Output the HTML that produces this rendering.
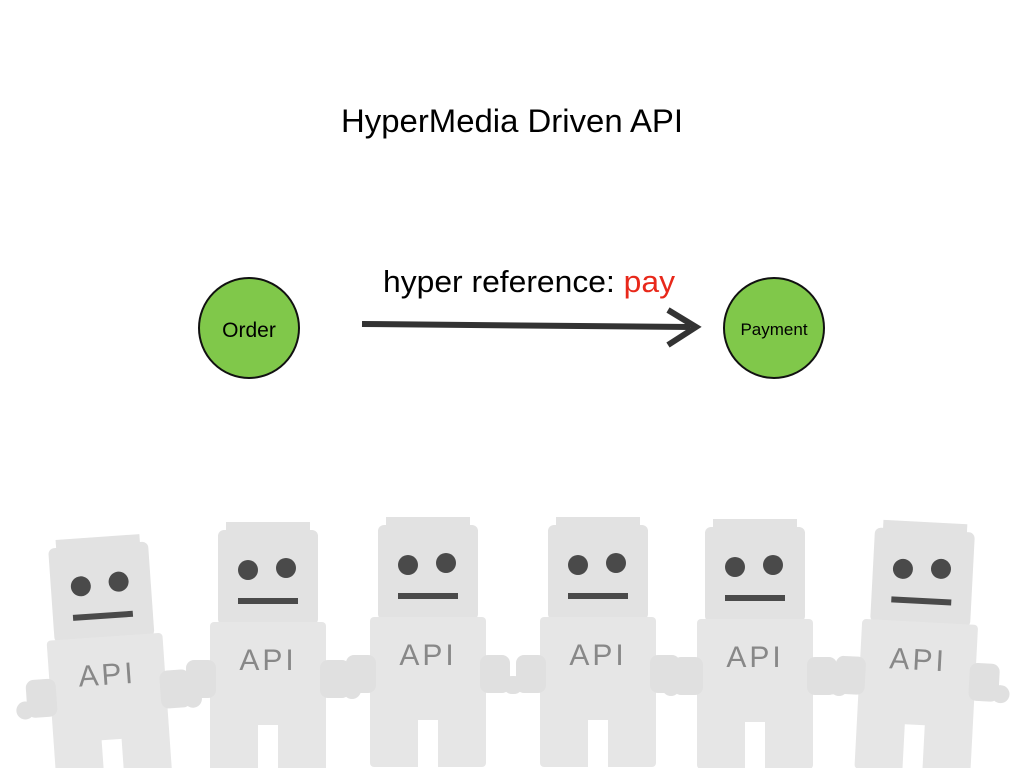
<!DOCTYPE html>
<html><head><style>
html,body{margin:0;padding:0;background:#fff;}
body{width:1024px;height:768px;position:relative;overflow:hidden;font-family:"Liberation Sans",sans-serif;}
</style></head><body>
<svg width="1024" height="768" viewBox="0 0 1024 768" style="position:absolute;left:0;top:0">
<defs>
<g id="robot">
  <rect x="-50" y="0" width="100" height="95" rx="6" fill="#e2e2e2"/>
  <rect x="-42" y="-8" width="84" height="12" fill="#e2e2e2"/>
  <rect x="-58" y="92" width="116" height="150" rx="4" fill="#e6e6e6"/>
  <rect x="-10" y="195" width="20" height="60" fill="#fff"/>
  <rect x="-82" y="130" width="30" height="38" rx="8" fill="#e0e0e0"/>
  <rect x="52" y="130" width="30" height="38" rx="8" fill="#e0e0e0"/>
  <circle cx="-84" cy="160" r="9" fill="#e0e0e0"/>
  <circle cx="84" cy="160" r="9" fill="#e0e0e0"/>
  <circle cx="-20" cy="40" r="10" fill="#4a4a4a"/>
  <circle cx="18" cy="38" r="10" fill="#4a4a4a"/>
  <rect x="-30" y="68" width="60" height="6" fill="#4a4a4a"/>
  <text x="0" y="140" text-anchor="middle" font-family="Liberation Sans" font-size="30" fill="#888" letter-spacing="3">API</text>
</g>
</defs>
<use href="#robot" transform="translate(98,545) rotate(-4)"/>
<use href="#robot" transform="translate(268,530)"/>
<use href="#robot" transform="translate(428,525)"/>
<use href="#robot" transform="translate(598,525)"/>
<use href="#robot" transform="translate(755,527)"/>
<use href="#robot" transform="translate(925,530) rotate(3)"/>

<text x="512" y="132" text-anchor="middle" font-size="32" fill="#000" textLength="342" lengthAdjust="spacingAndGlyphs">HyperMedia Driven API</text>
<circle cx="249" cy="328" r="50" fill="#80c84a" stroke="#111" stroke-width="2"/>
<text x="249" y="337" text-anchor="middle" font-size="21" fill="#000">Order</text>
<circle cx="774" cy="328" r="50" fill="#80c84a" stroke="#111" stroke-width="2"/>
<text x="774" y="335" text-anchor="middle" font-size="17" fill="#000">Payment</text>
<text x="383" y="292" font-size="31" fill="#000" textLength="292" lengthAdjust="spacingAndGlyphs">hyper reference: <tspan fill="#e8281a">pay</tspan></text>
<path d="M362 324 L690 327" stroke="#333" stroke-width="6" fill="none"/>
<path d="M668 310 L696 327 L668 345" stroke="#333" stroke-width="6" fill="none"/>
</svg>
</body></html>
